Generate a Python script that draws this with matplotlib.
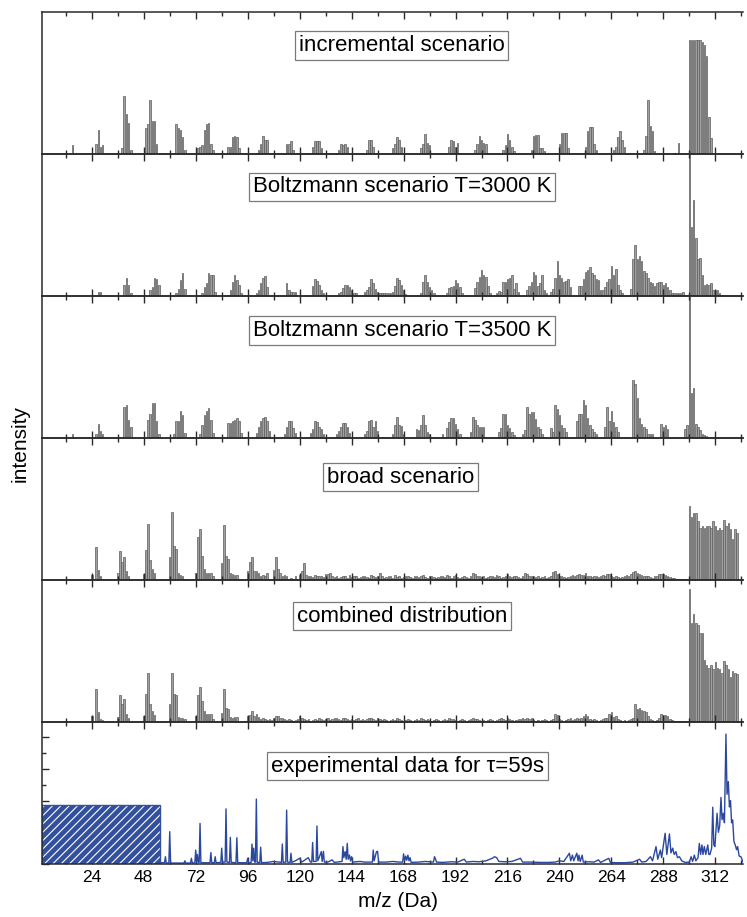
import matplotlib
matplotlib.use('Agg')
import matplotlib.pyplot as plt
from matplotlib.ticker import MultipleLocator
import numpy as np

plt.rcParams['font.family'] = ['Liberation Sans', 'DejaVu Sans']
plt.rcParams['hatch.linewidth'] = 0.8

# stick spectra: each cluster = first m/z + intensities of consecutive masses
# (intensity in % of panel height)
inc_start = [15, 26, 38, 49, 62, 73, 87, 100, 113, 125, 137, 151, 163, 176, 188,
             201, 214, 227, 239, 251, 265, 278, 293, 300]
inc_vals = [
    [6],
    [7, 17, 5, 6],
    [4, 41, 28, 22, 3],
    [18, 21, 38, 23, 23, 7],
    [1, 21, 18, 17, 12, 3],
    [4, 5, 6, 17, 21, 22, 7, 3],
    [5, 5, 12, 13, 12, 4, 1],
    [1, 3, 7, 13, 10, 10, 1],
    [1, 7, 7, 9, 3],
    [1, 5, 9, 9, 9, 4],
    [1, 3, 7, 6, 7, 5, 1],
    [3, 10, 10, 5, 1],
    [4, 7, 12, 10, 5],
    [4, 7, 14, 8, 6, 1],
    [1, 5, 10, 9, 5, 8, 1],
    [3, 7, 12.5, 10, 8, 7],
    [3, 6, 14, 10, 5, 2],
    [3, 13, 13.5, 13.5, 4, 4, 2],
    [1, 7, 15, 15, 15, 4, 1],
    [1, 5, 16, 19, 19, 7, 3],
    [3, 5, 12, 16, 10, 5, 1],
    [1, 3, 13, 38, 20, 16, 2],
    [1, 0, 8],
    [80, 80, 80, 80, 80, 80, 79, 77, 69, 26, 11],
]

b30_start = [12, 27, 39, 51, 63, 75, 87, 100, 114, 126, 138, 150, 163, 175, 188,
             201, 211, 225, 236, 249, 261, 273, 300]
b30_vals = [
    [1],
    [3, 3],
    [7.5, 13, 7.5, 2],
    [4, 6, 13, 12, 7.5],
    [2, 5, 11.5, 16, 5],
    [2, 6, 9, 16, 15, 15, 3],
    [1, 4, 10, 15, 11, 7.5, 2],
    [2, 4, 9, 13, 14, 6],
    [9, 4, 3, 3, 3],
    [7, 12, 10.5, 7.5, 4.5, 2],
    [2, 3, 5.5, 7.5, 8, 6.5, 4, 2, 2],
    [3, 4.5, 6.5, 12, 9, 5, 3, 2, 2, 2, 2, 2, 2],
    [3, 7, 12.7, 11, 8, 4, 1.5, 1],
    [1, 2, 10, 15, 10, 6, 4.5, 2],
    [2, 5.5, 6.5, 7, 11, 9, 6, 2],
    [5.5, 10, 13.5, 18, 15, 13.5, 7, 2],
    [2, 3.5, 3, 10, 10, 12, 13, 15, 5, 9, 3],
    [4.5, 7, 10, 17, 15, 7, 9, 14.6, 4, 2],
    [3, 5, 12.7, 24.5, 15, 13, 10, 10.6, 12, 6],
    [7, 7, 12, 17, 18, 20.5, 16, 14.6, 12, 11.5, 4, 4],
    [6, 10, 12, 21, 14.6, 19, 7.5, 4, 2],
    [5, 26, 36, 26, 28, 25, 17.6, 16, 13, 10, 9, 7, 9, 10, 10, 7.5, 9, 6.5, 4,
     2, 2, 2, 2, 2, 3, 1, 1],
    [150, 48.7, 67.5, 41, 26, 27, 15, 7.5, 8.7, 7.5, 9, 4.5, 4, 4, 2, 1, 1],
]

b35_start = [12, 26, 39, 50, 62, 74, 87, 100, 113, 125, 137, 150, 163, 174, 186,
             199, 212, 223, 236, 248, 261, 274, 287, 298]
b35_vals = [
    [1, 0, 0, 3],
    [2.5, 10, 5, 3],
    [22, 23, 13, 7.5],
    [13, 17, 25, 25, 12, 3],
    [3, 12, 12, 19, 16, 3.5],
    [2.5, 9, 16, 19, 21, 13, 3.5],
    [10.5, 10.5, 12, 13, 14, 12, 3.5],
    [3.5, 8, 12, 14, 15, 12, 5],
    [3, 8, 12, 12, 7, 3.5],
    [3.5, 6, 12, 11, 8, 6, 3],
    [3, 5, 8, 10.5, 10.5, 7.5, 3.5],
    [2.5, 5, 12, 13, 8, 12, 5],
    [2.5, 9, 15, 9, 8.5, 3],
    [6.5, 5.5, 9, 16, 9, 4.5, 2.5],
    [3, 0, 7, 11, 14, 14, 10, 6.5, 3],
    [4, 15, 12.5, 9, 8, 8, 8],
    [4.5, 7, 17, 17, 9, 7, 4, 2],
    [2.5, 5.5, 22, 16.6, 18.5, 18.5, 13.5, 8, 6.5, 2.5],
    [7, 4.5, 23, 20.6, 16, 9, 7, 4.5],
    [12, 17, 17, 26.5, 23, 14, 9, 6.5, 4.5, 2.5],
    [8, 22, 12, 19, 11, 8, 4.5],
    [40.5, 38, 28, 14, 10, 8, 6.5, 3, 3, 3],
    [10, 8, 9, 6.5],
    [6.5, 9, 150, 32, 35, 10, 8, 5.5, 3, 2, 1.5],
]

br_start = [24, 36, 48, 60, 72, 84, 96, 108, 115, 124, 300]
br_vals = [
    [3.5, 0, 23.5, 7, 2.5, 1],
    [4.7, 20.4, 13, 16.4, 6, 2.5],
    [4, 21, 39.4, 14, 8, 4.7],
    [16.4, 48, 24, 22, 4.7, 3.5, 2.5, 1],
    [4.7, 30, 35.7, 17, 8, 5, 5, 4.7, 2.5],
    [11.7, 38.5, 17, 14.5, 4.7, 4, 3.5, 3.5, 1],
    [6, 13, 16.4, 6.5, 6.3, 4.7, 2.5, 3.5, 2.5, 4.7],
    [7, 16, 8, 4.7, 2.5, 3.5, 2.5],
    [1, 1.5, 1, 2.5, 1, 3.5, 6, 11.7, 3.5],
    [2.5, 3, 2, 3.5, 3, 2.5, 3, 2, 4, 4.5, 5, 3,
     2, 2.5, 1.5, 2, 3, 2.5, 1.5, 3.5, 2, 3, 2.5, 1.5,
     2, 2.5, 3, 2, 1.5, 3.5, 2.5, 2, 3, 5, 2.5, 1.5,
     2, 3, 2.5, 1.5, 3.5, 2, 2.5, 1.5, 2, 3, 2.5, 2,
     1.5, 2.5, 3, 2, 2.5, 3.5, 2, 1.5, 2.5, 3, 2, 1.5,
     2, 3, 2.5, 2, 3.5, 3, 1.5, 2.5, 3.5, 2, 1.5, 2,
     2.5, 2, 1.5, 3, 5, 4, 3, 2.5, 2, 2.5, 1.5, 2,
     2.5, 3, 2, 3.5, 2.5, 1.5, 2, 3, 4, 3, 2, 2.5,
     3, 2, 1.5, 3, 5, 4, 3, 2.5, 3, 2, 2.5, 1.5,
     2, 2.5, 1.5, 2, 3, 5.5, 6, 4.5, 3, 2.5, 2, 1.5,
     2, 2.5, 3.5, 3, 3.5, 4, 3.5, 3.5, 5, 3, 2.5, 2,
     2.5, 3, 2, 2.5, 3.5, 3, 4.5, 4, 3, 2, 2.5, 2,
     1.5, 2, 2.5, 3.5, 3, 4, 5.5, 6, 5, 4, 3.5, 2.5,
     3, 2.5, 2, 1.5, 2.5, 3, 4, 4.5, 4, 3.5, 3, 2,
     1.5, 1.5, 1, 1, 1, 1, 1, 1],
    [52, 44.6, 47.4, 47.4, 41.5, 36.4, 38, 36.4, 38, 38, 36.4, 41.5, 38, 35.2,
     36.4, 35.2, 42, 38, 40, 35.6, 28.6, 35.6, 33],
]

cb_start = [24, 36, 48, 60, 72, 84, 96, 104, 300]
cb_vals = [
    [4, 0, 23, 7, 2.3, 1.4],
    [3.7, 19, 12.4, 16.4, 5.4, 3],
    [4.2, 19.4, 34.6, 13, 8, 4.7],
    [12.4, 34.6, 19.4, 18.7, 3.7, 3, 3, 2],
    [4.2, 19, 24.8, 15, 7.7, 5.4, 5.4, 5.4, 2.3],
    [6.5, 23, 10, 9, 3.5, 3, 3.3, 3.3],
    [4.2, 4.7, 7.7, 4.2, 5.4, 3.5, 2.3, 3],
    [2, 1.5, 2, 1.5, 2.5, 4.2, 4.2, 3, 3, 2.3,
     1.5, 2, 1.5, 1, 1.5, 2, 4.2, 2.5, 2, 1.5, 2, 1,
     1.5, 2, 1.5, 2.5, 2, 1.5, 2, 2.5, 1.5, 2, 2.5, 3,
     2, 1.5, 2.5, 3, 2, 1.5, 2, 1.5, 2, 2.5, 1.5, 2,
     1.5, 2, 2.5, 3, 2, 1.5, 2.5, 2, 1.5, 2, 1.5, 1,
     1.5, 2, 1.5, 2.5, 2, 1.5, 1, 1.5, 2, 1.5, 1, 1.5,
     2, 1.5, 2.5, 2, 1.5, 2, 1.5, 1, 1.5, 2, 1.5, 1,
     1.5, 2, 1.5, 2.5, 2, 2, 1.5, 1, 1.5, 2, 1.5, 1,
     1.5, 2, 2.5, 2, 2, 1.5, 1, 1.5, 1, 1.5, 2, 1.5,
     1, 1.5, 2, 2.5, 2, 1.5, 2.5, 2, 1.5, 1, 1.5, 2,
     2, 2.5, 2, 2.5, 2, 2.5, 1.5, 1, 1.5, 1, 1.5, 2,
     1.5, 1, 1.5, 2, 5.4, 4.7, 2, 1.5, 1, 1.5, 2, 2.5,
     1.5, 2, 2.5, 2, 3, 4, 5.4, 4, 2, 1.5, 2, 1.5,
     1, 1.5, 2, 2.5, 3, 5.4, 7, 3.5, 4, 2, 1.5, 1,
     1.5, 1, 1.5, 2, 3, 12.4, 9, 10, 8.4, 7.7, 7, 4,
     2, 1.5, 1, 1.5, 2.5, 5.4, 4.7, 4.7, 4, 2.3, 1.5, 1,
     1, 1, 1, 1, 1, 1],
    [93.5, 70, 76, 70, 68.5, 63, 63, 44, 40, 38, 40.4, 37, 42, 38, 37, 34.6,
     42.8, 40, 37.4, 32, 35.7, 34.6, 34],
]

# experimental trace (m/z, intensity in axis units)
exp_mz = [55, 57.6, 58, 58.4, 59.6, 60, 60.4, 66.6, 67, 67.4, 69.6, 70, 70.4, 71.6, 72,
          72.4, 72.8, 73.2, 73.6, 74, 74.4, 78.6, 79, 79.4, 80.6, 81, 81.4, 83.6, 84,
          84.4, 85.6, 86, 86.4, 87.6, 88, 88.4, 90.6, 91, 91.4, 95.6, 96, 96.4, 97.6,
          98, 98.4, 98.8, 99.2, 99.6, 100, 100.4, 101.6, 102, 102.4, 105, 108, 111.6,
          112, 112.4, 113.6, 114, 114.4, 115.6, 116, 116.4, 118, 120, 121, 124, 125,
          125.6, 126, 126.4, 127.6, 128, 128.4, 129, 130, 130.4, 131, 131.4, 133, 135,
          136, 139.6, 140, 140.4, 141, 141.5, 142, 142.4, 143, 143.5, 144, 144.5, 148,
          150, 153.6, 154, 154.4, 155.5, 156, 156.5,
          160, 163, 166, 167.6, 168, 168.5, 169, 169.5, 170, 170.5, 171, 171.5, 175,
          178, 181.8, 182.3, 182.8, 183.2, 186, 190, 193, 196, 197, 200, 203, 206, 209,
          210, 211, 212, 215, 218, 222, 223, 227, 231, 235, 238, 240, 242, 244.6, 245.2,
          246, 246.6, 248, 248.6, 249, 249.6, 250.5, 251, 254, 256, 258, 259, 262.8,
          263.5, 266, 270, 274, 277, 278, 280, 282, 283, 284.6, 285.4, 286.6, 287.2,
          288.8, 289.6, 290.8, 291.5, 292.3, 293, 293.8, 294.5, 295.4, 296.5, 298, 300,
          300.8, 301.5, 302.3, 303, 304, 304.6, 305.2, 305.8, 306.3, 306.9, 307.6,
          308.5, 309, 309.5, 310.3, 310.8, 311.3, 311.8, 312.8, 313.4, 314.0, 314.6,
          315.1, 315.7, 316.2, 316.9, 317.4, 318, 318.5, 319, 319.5, 320, 320.6, 321.2,
          321.8, 322.3, 323, 323.8, 325, 326]
exp_int = [0.04, 0.04, 0.23, 0.03, 0.03, 1.02, 0.03, 0.03, 0.1, 0.03, 0.03, 0.18, 0.03,
           0.04, 0.44, 0.05, 0.3, 0.05, 0.05, 1.28, 0.04, 0.04, 0.36, 0.04, 0.04, 0.23,
           0.04, 0.05, 0.5, 0.06, 0.06, 1.74, 0.06, 0.05, 0.84, 0.05, 0.04, 0.83, 0.04,
           0.04, 0.18, 0.04, 0.05, 0.63, 0.1, 0.5, 0.06, 0.06, 2.05, 0.05, 0.05, 0.53,
           0.04, 0.05, 0.08, 0.05, 0.63, 0.05, 0.06, 1.7, 0.06, 0.05, 0.34, 0.05, 0.1,
           0.18, 0.06, 0.2, 0.06, 0.06, 0.68, 0.08, 0.08, 1.2, 0.1, 0.2, 0.39, 0.08,
           0.4, 0.06, 0.06, 0.13, 0.05, 0.08, 0.55, 0.2, 0.39, 0.15, 0.65, 0.15, 0.28,
           0.1, 0.23, 0.06, 0.08, 0.06, 0.06, 0.44, 0.1, 0.39, 0.4, 0.06,
           0.06, 0.08, 0.06, 0.06, 0.32, 0.1, 0.25, 0.12, 0.28, 0.1, 0.2, 0.05, 0.06,
           0.08, 0.06, 0.23, 0.15, 0.06, 0.05, 0.07, 0.06, 0.15, 0.06, 0.08, 0.07, 0.1,
           0.18, 0.23, 0.2, 0.08, 0.07, 0.08, 0.18, 0.06, 0.06, 0.05, 0.05, 0.06, 0.1,
           0.08, 0.34, 0.1, 0.28, 0.1, 0.34, 0.1, 0.28, 0.08, 0.28, 0.06, 0.07, 0.06,
           0.13, 0.05, 0.18, 0.05, 0.04, 0.04, 0.06, 0.15, 0.06, 0.08, 0.23, 0.1, 0.55,
           0.15, 0.44, 0.2, 0.97, 0.3, 0.95, 0.35, 0.5, 0.3, 0.39, 0.2, 0.23, 0.1, 0.05,
           0.06, 0.23, 0.08, 0.28, 0.1, 0.2, 0.65, 0.3, 0.6, 0.3, 0.55, 0.3, 0.6, 0.3,
           0.3, 0.5, 1.79, 0.6, 0.55, 1.6, 1.0, 1.2, 2.1, 1.4, 1.6, 1.3, 4.1, 2.2, 2.6,
           1.8, 2.0, 1.3, 1.39, 0.7, 0.6, 0.45, 0.55, 0.25, 0.23, 0.03, 0.02]
# masked low-mass region of the measurement
mask_lo, mask_hi, mask_h = 1, 55.7, 1.86

titles = ['incremental scenario', 'Boltzmann scenario T=3000 K',
          'Boltzmann scenario T=3500 K', 'broad scenario',
          'combined distribution', 'experimental data for \u03c4=59s']
title_pos = [(0.513, 0.764), (0.513, 0.768), (0.513, 0.757),
             (0.511, 0.724), (0.513, 0.745), (0.521, 0.690)]


def expand(starts, vals):
    mz, y = [], []
    for s, v in zip(starts, vals):
        mz += list(range(s, s + len(v)))
        y += list(v)
    return np.array(mz), np.array(y, float)


sticks = [expand(inc_start, inc_vals), expand(b30_start, b30_vals),
          expand(b35_start, b35_vals), expand(br_start, br_vals),
          expand(cb_start, cb_vals)]

fig = plt.figure(figsize=(7.47, 9.17), dpi=100)
left, right = 0.0562, 0.9953
bottom, ph = 0.0578, 0.15485
spine_c = '#2a2a2a'

axes = []
for i in range(6):
    ax = fig.add_axes([left, bottom + (5 - i) * ph, right - left, ph])
    axes.append(ax)
    ax.set_xlim(1, 325)
    ax.xaxis.set_major_locator(MultipleLocator(24))
    ax.xaxis.set_minor_locator(MultipleLocator(12))
    ax.tick_params(axis='x', which='both', direction='in', top=True, bottom=True,
                   labelbottom=(i == 5), labelsize=12.5, pad=4.5, color=spine_c,
                   width=1.0)
    ax.tick_params(axis='x', which='major', length=5)
    ax.tick_params(axis='x', which='minor', length=3)
    for s in ax.spines.values():
        s.set_linewidth(1.1)
        s.set_color(spine_c)
    ax.spines['right'].set_visible(False)
    ax.patch.set_alpha(0)

    if i < 5:
        mz, y = sticks[i]
        ax.bar(mz, y, width=0.7, color='#a0a0a0', edgecolor='#5c5c5c', linewidth=0.5)
        ax.set_ylim(0, 100)
        ax.set_yticks([])
    else:
        ax.bar(mask_lo, mask_h, width=mask_hi - mask_lo, align='edge',
               facecolor='#33509e', edgecolor='white', hatch='////', linewidth=0,
               zorder=2.2)
        ax.bar(mask_lo, mask_h, width=mask_hi - mask_lo, align='edge',
               facecolor='none', edgecolor='#33509e', linewidth=1.0, zorder=2.3)
        ax.plot(exp_mz, exp_int, color='#2b48a0', lw=1.0)
        ax.set_ylim(0, 4.48)
        ax.yaxis.set_major_locator(MultipleLocator(1))
        ax.yaxis.set_minor_locator(MultipleLocator(0.5))
        ax.tick_params(axis='y', which='both', direction='in', left=True, right=False,
                       labelleft=False, color=spine_c, width=1.0)
        ax.tick_params(axis='y', which='major', length=5)
        ax.tick_params(axis='y', which='minor', length=3)

    tx, ty = title_pos[i]
    ax.text(tx, ty, titles[i], transform=ax.transAxes, ha='center', va='center',
            fontsize=16, zorder=5,
            bbox=dict(boxstyle='square,pad=0.16', facecolor='white',
                      edgecolor='#7a7a7a', linewidth=0.9))

fig.text(0.027, 0.5164, 'intensity', rotation=90, ha='center', va='center',
         fontsize=15)
fig.text(0.5328, 0.0164, 'm/z (Da)', ha='center', va='center', fontsize=15)

fig.savefig('out.png', dpi=100)
